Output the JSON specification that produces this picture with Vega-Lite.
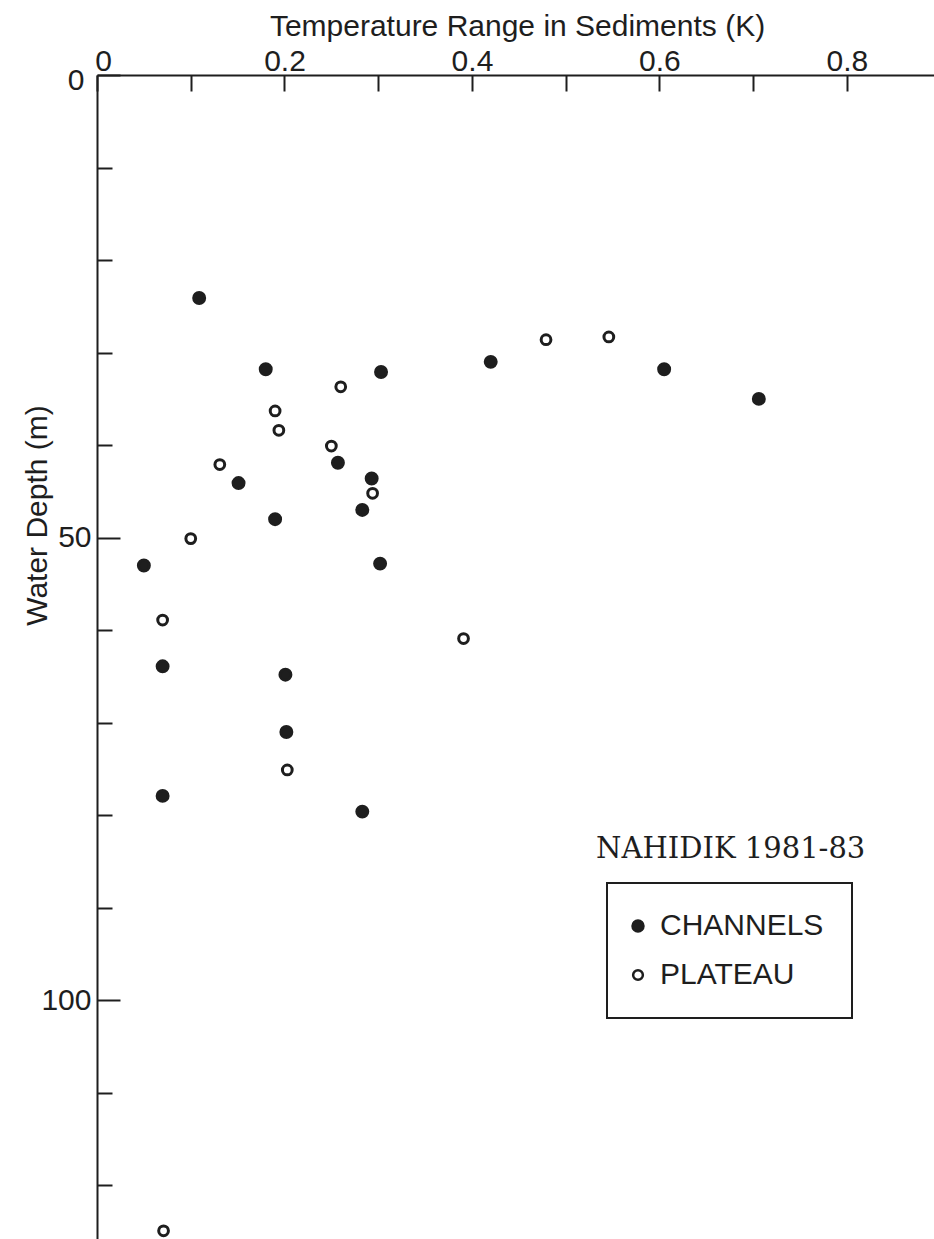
{
  "$schema": "https://vega.github.io/schema/vega-lite/v6.json",
  "width": 839,
  "height": 1166,
  "autosize": {"type": "none"},
  "padding": {"left": 97, "top": 75, "right": 0, "bottom": 0},
  "background": "white",
  "config": {"view": {"stroke": null}, "font": "Liberation Sans"},
  "layer": [
    {
      "data": {"values": [
        {"site": "CHANNELS", "range_K": 0.109, "depth_m": 24.1},
        {"site": "CHANNELS", "range_K": 0.180, "depth_m": 31.8},
        {"site": "CHANNELS", "range_K": 0.303, "depth_m": 32.1},
        {"site": "CHANNELS", "range_K": 0.420, "depth_m": 31.0},
        {"site": "CHANNELS", "range_K": 0.605, "depth_m": 31.8},
        {"site": "CHANNELS", "range_K": 0.706, "depth_m": 35.0},
        {"site": "CHANNELS", "range_K": 0.257, "depth_m": 41.9},
        {"site": "CHANNELS", "range_K": 0.151, "depth_m": 44.1},
        {"site": "CHANNELS", "range_K": 0.293, "depth_m": 43.6},
        {"site": "CHANNELS", "range_K": 0.283, "depth_m": 47.0},
        {"site": "CHANNELS", "range_K": 0.190, "depth_m": 48.0},
        {"site": "CHANNELS", "range_K": 0.050, "depth_m": 53.0},
        {"site": "CHANNELS", "range_K": 0.302, "depth_m": 52.8},
        {"site": "CHANNELS", "range_K": 0.070, "depth_m": 63.9},
        {"site": "CHANNELS", "range_K": 0.201, "depth_m": 64.8},
        {"site": "CHANNELS", "range_K": 0.202, "depth_m": 71.0},
        {"site": "CHANNELS", "range_K": 0.070, "depth_m": 77.9},
        {"site": "CHANNELS", "range_K": 0.283, "depth_m": 79.6},
        {"site": "PLATEAU", "range_K": 0.260, "depth_m": 33.7},
        {"site": "PLATEAU", "range_K": 0.190, "depth_m": 36.3},
        {"site": "PLATEAU", "range_K": 0.194, "depth_m": 38.4},
        {"site": "PLATEAU", "range_K": 0.250, "depth_m": 40.1},
        {"site": "PLATEAU", "range_K": 0.131, "depth_m": 42.1},
        {"site": "PLATEAU", "range_K": 0.294, "depth_m": 45.2},
        {"site": "PLATEAU", "range_K": 0.100, "depth_m": 50.1},
        {"site": "PLATEAU", "range_K": 0.479, "depth_m": 28.6},
        {"site": "PLATEAU", "range_K": 0.546, "depth_m": 28.3},
        {"site": "PLATEAU", "range_K": 0.070, "depth_m": 58.9},
        {"site": "PLATEAU", "range_K": 0.391, "depth_m": 60.9},
        {"site": "PLATEAU", "range_K": 0.203, "depth_m": 75.1},
        {"site": "PLATEAU", "range_K": 0.071, "depth_m": 124.9}
      ]},
      "mark": {"type": "point", "shape": "circle", "strokeWidth": 3, "opacity": 1},
      "encoding": {
        "x": {
          "field": "range_K", "type": "quantitative",
          "scale": {"domain": [0, 0.895], "nice": false, "zero": false},
          "axis": {
            "orient": "top",
            "title": "Temperature Range in Sediments (K)",
            "values": [0, 0.1, 0.2, 0.3, 0.4, 0.5, 0.6, 0.7, 0.8],
            "labelExpr": "round(datum.value * 10) % 2 === 0 ? (datum.value === 0 ? '0' : format(datum.value, '.1f')) : ''",
            "grid": false,
            "tickSize": -16,
            "tickWidth": 2,
            "tickColor": "#1e1e1e",
            "domainColor": "#1e1e1e",
            "domainWidth": 2,
            "labelFont": "Liberation Sans",
            "labelFontSize": 30,
            "labelColor": "#1e1e1e",
            "labelBaseline": "alphabetic",
            "labelPadding": 21,
            "labelOffset": {"condition": {"test": "datum.value === 0", "value": 6}, "value": 0},
            "labelFlush": false,
            "labelOverlap": false,
            "titleFont": "Liberation Sans",
            "titleFontSize": 30,
            "titleFontWeight": "normal",
            "titleColor": "#1e1e1e",
            "titleX": 420,
            "titleY": -40,
            "titleAlign": "center",
            "titleBaseline": "alphabetic"
          }
        },
        "y": {
          "field": "depth_m", "type": "quantitative",
          "scale": {"domain": [0, 126], "reverse": true, "nice": false, "zero": false},
          "axis": {
            "orient": "left",
            "title": "Water Depth (m)",
            "values": [0, 10, 20, 30, 40, 50, 60, 70, 80, 90, 100, 110, 120],
            "labelExpr": "datum.value % 50 === 0 ? datum.label : ''",
            "grid": false,
            "tickSize": {"condition": {"test": "datum.value % 50 === 0", "value": -23}, "value": -15},
            "tickWidth": 2,
            "tickColor": "#1e1e1e",
            "domainColor": "#1e1e1e",
            "domainWidth": 2,
            "labelFont": "Liberation Sans",
            "labelFontSize": 30,
            "labelColor": "#1e1e1e",
            "labelPadding": {"condition": {"test": "datum.value === 0", "value": 36}, "value": 29},
            "labelOffset": {"condition": {"test": "datum.value === 0", "value": 5}, "value": 0},
            "labelBaseline": "middle",
            "labelFlush": false,
            "labelOverlap": false,
            "titleFont": "Liberation Sans",
            "titleFontSize": 30,
            "titleFontWeight": "normal",
            "titleColor": "#1e1e1e",
            "titleAngle": -90,
            "titleX": -51,
            "titleY": 440,
            "titleAlign": "center",
            "titleBaseline": "alphabetic"
          }
        },
        "fill": {
          "field": "site", "type": "nominal",
          "scale": {"domain": ["CHANNELS", "PLATEAU"], "range": ["#1e1e1e", "#ffffff"]},
          "legend": {
            "title": null,
            "orient": "none",
            "legendX": 510,
            "legendY": 808,
            "direction": "vertical",
            "strokeColor": "#1e1e1e",
            "padding": 28,
            "labelFont": "Liberation Sans",
            "labelFontSize": 30,
            "labelColor": "#1e1e1e",
            "labelLimit": 400,
            "labelOffset": 7,
            "symbolOffset": -12,
            "rowPadding": 19,
            "symbolType": "circle",
            "symbolStrokeWidth": 2.5,
            "symbolOpacity": 1,
            "encode": {"legend": {"update": {"strokeWidth": {"value": 2}}}}
          }
        },
        "stroke": {
          "field": "site", "type": "nominal",
          "scale": {"domain": ["CHANNELS", "PLATEAU"], "range": ["#1e1e1e", "#1e1e1e"]},
          "legend": {
            "title": null,
            "orient": "none",
            "legendX": 510,
            "legendY": 808,
            "direction": "vertical",
            "strokeColor": "#1e1e1e",
            "padding": 28,
            "labelFont": "Liberation Sans",
            "labelFontSize": 30,
            "labelColor": "#1e1e1e",
            "labelLimit": 400,
            "labelOffset": 7,
            "symbolOffset": -12,
            "rowPadding": 19,
            "symbolType": "circle",
            "symbolStrokeWidth": 2.5,
            "symbolOpacity": 1,
            "encode": {"legend": {"update": {"strokeWidth": {"value": 2}}}}
          }
        },
        "size": {
          "field": "site", "type": "ordinal",
          "scale": {"domain": ["CHANNELS", "PLATEAU"], "range": [120, 95]},
          "legend": {
            "title": null,
            "orient": "none",
            "legendX": 510,
            "legendY": 808,
            "direction": "vertical",
            "strokeColor": "#1e1e1e",
            "padding": 28,
            "labelFont": "Liberation Sans",
            "labelFontSize": 30,
            "labelColor": "#1e1e1e",
            "labelLimit": 400,
            "labelOffset": 7,
            "symbolOffset": -12,
            "rowPadding": 19,
            "symbolType": "circle",
            "symbolStrokeWidth": 2.5,
            "symbolOpacity": 1,
            "encode": {"legend": {"update": {"strokeWidth": {"value": 2}}}}
          }
        }
      }
    },
    {
      "data": {"values": [{"note": "NAHIDIK 1981-83", "range_K": 0.676, "depth_m": 84.6}]},
      "mark": {"type": "text", "font": "DejaVu Serif", "fontSize": 29, "align": "center", "baseline": "alphabetic", "color": "#1e1e1e"},
      "encoding": {
        "x": {"field": "range_K", "type": "quantitative"},
        "y": {"field": "depth_m", "type": "quantitative"},
        "text": {"field": "note", "type": "nominal"}
      }
    }
  ]
}
